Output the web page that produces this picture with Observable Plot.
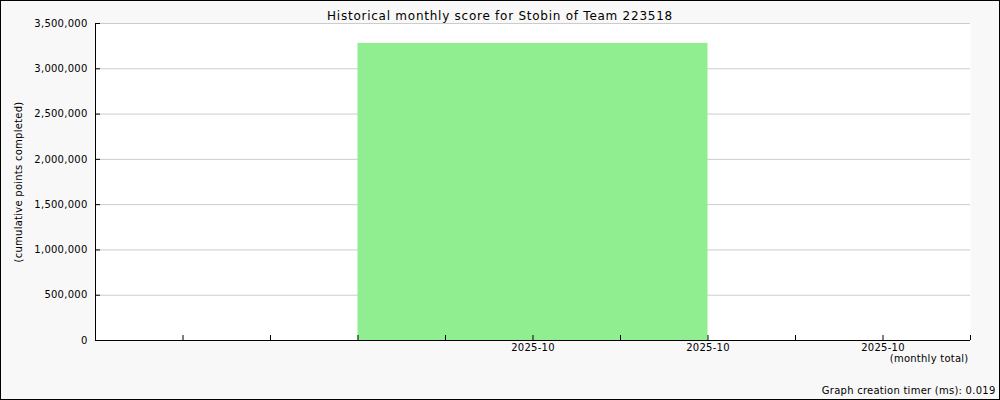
<!DOCTYPE html>
<html><head><meta charset="utf-8">
<script src="https://cdn.jsdelivr.net/npm/d3@7"></script>
<script src="https://cdn.jsdelivr.net/npm/@observablehq/plot@0.6"></script>
<style>
html,body{margin:0;padding:0;background:#f8f8f8;}
#chart svg{display:block; outline:1px solid #000; outline-offset:-1px;}
#chart svg text{letter-spacing:0.25px;}
</style></head><body><div id="chart"></div>
<script>
const title = "Historical monthly score for Stobin of Team 223518";
const yLabel = "(cumulative points completed)";
const xNote = "(monthly total)";
const timerText = "Graph creation timer (ms): 0.019";

const months = ["2025-10"];
const monthSlot = [0];
const scores = [3280000];

const xTickLabels = ["2025-10", "2025-10", "2025-10"];
const xTickLabelSlots = [0, 1, 2];
const xDomain = [-2.5, 2.5];
const xTickSlots = [-2.5, -2, -1.5, -1, -0.5, 0, 0.5, 1, 1.5, 2, 2.5];
const yTicks = [0, 500000, 1000000, 1500000, 2000000, 2500000, 3000000, 3500000];

const bars = months.map((m, i) => ({month: m, slot: monthSlot[i], score: scores[i]}));
const barHalf = 1;

const W = 1000, H = 400, mL = 95, mR = 30, mT = 23, mB = 60;
const plotW = W - mL - mR, plotH = H - mT - mB;

const chart = Plot.plot({
  width: W, height: H,
  marginLeft: mL, marginRight: mR, marginTop: mT, marginBottom: mB,
  style: {background: "#f8f8f8", fontFamily: "'DejaVu Sans', sans-serif", fontSize: "10px", color: "#000", overflow: "visible"},
  x: {domain: xDomain},
  y: {domain: [0, 3500000]},
  marks: [
    Plot.frame({fill: "white", stroke: null}),
    Plot.gridY(yTicks, {stroke: "#cccccc", strokeOpacity: 1}),
    Plot.rectY(bars, {x1: d => d.slot - barHalf, x2: d => d.slot + barHalf, y: "score", fill: "#90ee90"}),
    Plot.ruleY([0], {stroke: "#000"}),
    Plot.ruleX([xDomain[0]], {stroke: "#000"}),
    Plot.tickY(yTicks, {y: d => d, stroke: "#000", insetRight: plotW - 5}),
    Plot.tickX(xTickSlots, {x: d => d, stroke: "#000", insetTop: plotH - 5}),
    Plot.axisY(yTicks, {tickFormat: d3.format(","), tickSize: 0, tickPadding: 8, fontSize: 10, label: null}),
    Plot.axisX(xTickLabelSlots, {tickFormat: d => xTickLabels[xTickLabelSlots.indexOf(d)], tickSize: 0, tickPadding: 3, fontSize: 10, label: null}),
    Plot.text([title], {text: d => d, frameAnchor: "top", dx: -33, dy: -12, fontSize: 12}),
    Plot.text([yLabel], {text: d => d, frameAnchor: "left", textAnchor: "middle", dx: -77, rotate: -90, fontSize: 10}),
    Plot.text([xNote], {text: d => d, frameAnchor: "bottom-right", textAnchor: "end", dx: -2, dy: 21, fontSize: 10}),
    Plot.text([timerText], {text: d => d, frameAnchor: "bottom-right", textAnchor: "end", dx: 25, dy: 53, fontSize: 10})
  ]
});
chart.querySelectorAll("text").forEach(t => {
  if (t.textContent === title) t.style.letterSpacing = "0.75px";
});
document.getElementById("chart").appendChild(chart);
</script>
</body></html>
